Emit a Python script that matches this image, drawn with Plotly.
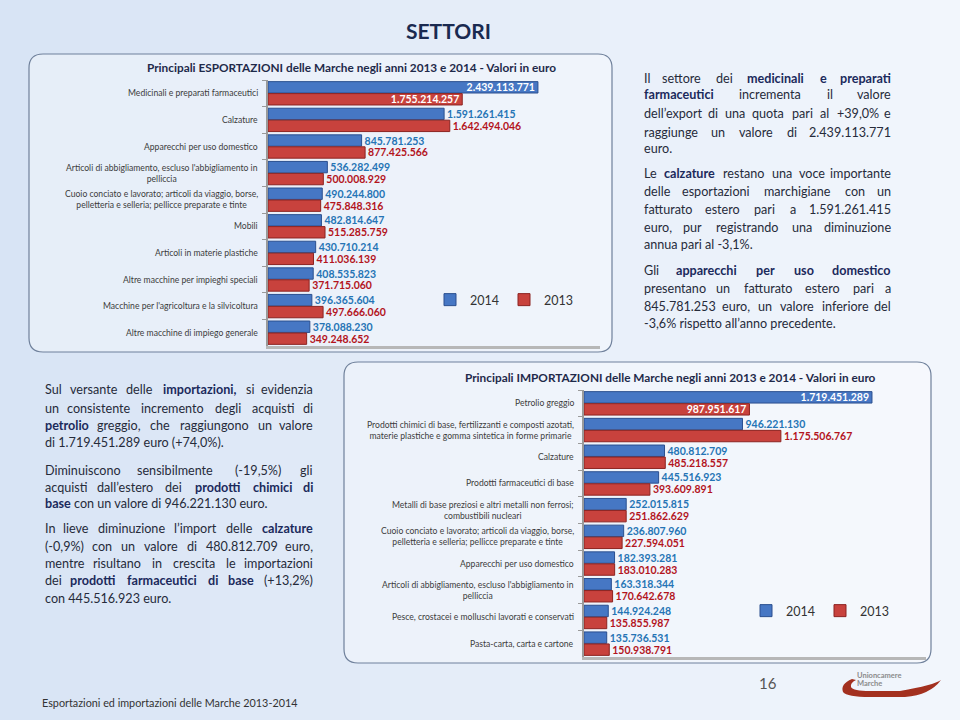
import plotly.graph_objects as go

# ---------------- data ----------------
exp_cats = [
    "Medicinali e preparati farmaceutici",
    "Calzature",
    "Apparecchi per uso domestico",
    "Articoli di abbigliamento, escluso l'abbigliamento in<br>pelliccia",
    "Cuoio conciato e lavorato; articoli da viaggio, borse,<br>pelletteria e selleria; pellicce preparate e tinte",
    "Mobili",
    "Articoli in materie plastiche",
    "Altre macchine per impieghi speciali",
    "Macchine per l'agricoltura e la silvicoltura",
    "Altre macchine di impiego generale",
]
exp_2014 = [2439113771, 1591261415, 845781253, 536282499, 490244800,
            482814647, 430710214, 408535823, 396365604, 378088230]
exp_2013 = [1755214257, 1642494046, 877425566, 500008929, 475848316,
            515285759, 411036139, 371715060, 497666060, 349248652]

imp_cats = [
    "Petrolio greggio",
    "Prodotti chimici di base, fertilizzanti e composti azotati,<br>materie plastiche e gomma sintetica in forme primarie",
    "Calzature",
    "Prodotti farmaceutici di base",
    "Metalli di base preziosi e altri metalli non ferrosi;<br>combustibili nucleari",
    "Cuoio conciato e lavorato; articoli da viaggio, borse,<br>pelletteria e selleria; pellicce preparate e tinte",
    "Apparecchi per uso domestico",
    "Articoli di abbigliamento, escluso l'abbigliamento in<br>pelliccia",
    "Pesce, crostacei e molluschi lavorati e conservati",
    "Pasta-carta, carta e cartone",
]
imp_2014 = [1719451289, 946221130, 480812709, 445516923, 252015815,
            236807960, 182393281, 163318344, 144924248, 135736531]
imp_2013 = [987951617, 1175506767, 485218557, 393609891, 251862629,
            227594051, 183010283, 170642678, 135855987, 150938791]

years = ["2014", "2013"]

exp_title = "Principali ESPORTAZIONI delle Marche negli anni 2013 e 2014 - Valori in euro"
imp_title = "Principali IMPORTAZIONI delle Marche negli anni 2013 e 2014 - Valori in euro"
page_title = "SETTORI"
footer = "Esportazioni ed importazioni delle Marche 2013-2014"
page_no = "16"

right_text = [
    ("Il settore dei <b>medicinali e preparati</b>", True),
    ("<b>farmaceutici</b> incrementa il valore", True),
    ("dell’export di una quota pari al +39,0% e", True),
    ("raggiunge un valore di 2.439.113.771", True),
    ("euro.", False),
    None,
    ("Le <b>calzature</b> restano una voce importante", True),
    ("delle esportazioni marchigiane con un", True),
    ("fatturato estero pari a 1.591.261.415", True),
    ("euro, pur registrando una diminuzione", True),
    ("annua pari al -3,1%.", False),
    None,
    ("Gli <b>apparecchi per uso domestico</b>", True),
    ("presentano un fatturato estero pari a", True),
    ("845.781.253 euro, un valore inferiore del", True),
    ("-3,6% rispetto all’anno precedente.", False),
]
left_text = [
    ("Sul versante delle <b>importazioni,</b> si evidenzia", True),
    ("un consistente incremento degli acquisti di", True),
    ("<b>petrolio</b> greggio, che raggiungono un valore", True),
    ("di 1.719.451.289 euro (+74,0%).", False),
    None,
    ("Diminuiscono sensibilmente (-19,5%) gli", True),
    ("acquisti dall’estero dei <b>prodotti chimici di</b>", True),
    ("<b>base</b> con un valore di 946.221.130 euro.", False),
    None,
    ("In lieve diminuzione l’import delle <b>calzature</b>", True),
    ("(-0,9%) con un valore di 480.812.709 euro,", True),
    ("mentre risultano in crescita le importazioni", True),
    ("dei <b>prodotti farmaceutici di base</b> (+13,2%)", True),
    ("con 445.516.923 euro.", False),
]

# ---------------- style ----------------
W, H = 960, 720
FONT = "Lato"
BLUE, BLUE_D = "#4677c4", "#2a4f8f"
RED, RED_D = "#c8423d", "#8c2320"
BLUE_TXT, RED_TXT = "#2574b5", "#b3141c"
TXT = "#262b3a"
NAVY = "#1b2a5c"
BG = "#e6eef9"


def X(x):
    return x / W


def Y(y):
    return 1 - y / H


def fmt(vals):
    return [f"{v:,}".replace(",", ".") for v in vals]


def rrect(x0, y0, x1, y1, r):
    return (f"M {X(x0+r)},{Y(y0)} L {X(x1-r)},{Y(y0)} Q {X(x1)},{Y(y0)} {X(x1)},{Y(y0+r)} "
            f"L {X(x1)},{Y(y1-r)} Q {X(x1)},{Y(y1)} {X(x1-r)},{Y(y1)} "
            f"L {X(x0+r)},{Y(y1)} Q {X(x0)},{Y(y1)} {X(x0)},{Y(y1-r)} "
            f"L {X(x0)},{Y(y0+r)} Q {X(x0)},{Y(y0)} {X(x0+r)},{Y(y0)} Z")


fig = go.Figure()

# bars ------------------------------------------------------------
def add_pair(cats, v14, v13, xa, ya, leg):
    for vals, name, col, lcol, tcol in [(v14, years[0], BLUE, BLUE_D, BLUE_TXT),
                                        (v13, years[1], RED, RED_D, RED_TXT)]:
        pos = ["inside" if i == 0 else "outside" for i in range(len(vals))]
        fig.add_trace(go.Bar(
            y=cats, x=vals, orientation="h", name=name,
            marker=dict(color=col, line=dict(color=lcol, width=1)),
            text=fmt(vals), textposition=pos, insidetextanchor="end",
            textfont=dict(family=FONT, size=10.5, weight="bold"),
            insidetextfont=dict(family=FONT, size=10.5, color="white", weight="bold"),
            outsidetextfont=dict(family=FONT, size=10.5, color=tcol, weight="bold"),
            constraintext="none", cliponaxis=False,
            xaxis=xa, yaxis=ya, legend=leg, hoverinfo="skip",
        ))


add_pair(exp_cats, exp_2014, exp_2013, "x", "y", "legend")
add_pair(imp_cats, imp_2014, imp_2013, "x2", "y2", "legend2")

ax_common = dict(showgrid=False, zeroline=False, showticklabels=False, ticks="",
                 showline=True, linecolor="#b7b7b7", linewidth=3, fixedrange=True)
ay_common = dict(showgrid=False, zeroline=False, showticklabels=False,
                 showline=True, linecolor="#9a9a9a", linewidth=1.5,
                 ticks="outside", ticklen=4, tickcolor="#9a9a9a", tickson="boundaries",
                 autorange="reversed", categoryorder="array", fixedrange=True)

fig.update_layout(
    width=W, height=H, margin=dict(l=0, r=0, t=0, b=0),
    paper_bgcolor=BG, plot_bgcolor="rgba(0,0,0,0)",
    barmode="group", bargap=0.1, bargroupgap=0.05,
    xaxis=dict(domain=[X(268), X(600)], range=[0, 3.0e9], anchor="y", **ax_common),
    yaxis=dict(domain=[Y(346), Y(80)], anchor="x", categoryarray=exp_cats, **ay_common),
    xaxis2=dict(domain=[X(584), X(926)], range=[0, 2.042e9], anchor="y2", **ax_common),
    yaxis2=dict(domain=[Y(657), Y(390)], anchor="x2", categoryarray=imp_cats, **ay_common),
    legend=dict(x=X(430), y=Y(300), xanchor="left", yanchor="middle", orientation="h",
                bgcolor="rgba(0,0,0,0)", font=dict(family=FONT, size=12.5, color="#333"),
                itemwidth=30),
    legend2=dict(x=X(746), y=Y(611), xanchor="left", yanchor="middle", orientation="h",
                 bgcolor="rgba(0,0,0,0)", font=dict(family=FONT, size=12.5, color="#333"),
                 itemwidth=30),
    showlegend=True,
)

# background gradient + boxes ---------------------------------------
shapes = []
n = 32
c0, c1 = (216, 228, 245), (242, 246, 252)
for i in range(n):
    t = i / (n - 1)
    c = tuple(round(a + (b - a) * t) for a, b in zip(c0, c1))
    shapes.append(dict(type="rect", xref="paper", yref="paper", layer="below",
                       x0=i / n, x1=(i + 1) / n + 0.002, y0=0, y1=1,
                       line=dict(width=0), fillcolor=f"rgb{c}"))
for (bx0, by0, bx1, by1) in [(29, 54, 612, 352), (344, 362, 931, 663)]:
    shapes.append(dict(type="path", xref="paper", yref="paper", layer="below",
                       path=rrect(bx0, by0, bx1, by1, 14),
                       line=dict(color="#6f809b", width=1.2),
                       fillcolor="rgba(255,255,255,0.35)"))
# logo swoosh
sw = [(852, 679), (840, 684), (843, 692), (847, 697), (870, 697), (905, 697),
      (930, 695), (941, 680), (934, 685), (922, 690), (900, 691), (870, 691),
      (853, 691), (851, 687), (850, 683), (856, 680)]
p = (f"M {X(sw[0][0])},{Y(sw[0][1])} Q {X(sw[1][0])},{Y(sw[1][1])} {X(sw[2][0])},{Y(sw[2][1])} "
     f"Q {X(sw[3][0])},{Y(sw[3][1])} {X(sw[4][0])},{Y(sw[4][1])} L {X(sw[5][0])},{Y(sw[5][1])} "
     f"Q {X(sw[6][0])},{Y(sw[6][1])} {X(sw[7][0])},{Y(sw[7][1])} "
     f"Q {X(sw[8][0])},{Y(sw[8][1])} {X(sw[10][0])},{Y(sw[10][1])} L {X(sw[11][0])},{Y(sw[11][1])} "
     f"Q {X(sw[12][0])},{Y(sw[12][1])} {X(sw[13][0])},{Y(sw[13][1])} "
     f"Q {X(sw[14][0])},{Y(sw[14][1])} {X(sw[15][0])},{Y(sw[15][1])} Z")
shapes.append(dict(type="path", xref="paper", yref="paper", path=p,
                   line=dict(width=0), fillcolor="#a3301f"))
fig.update_layout(shapes=shapes)

# annotations ---------------------------------------------------------
ann = []


def add_text(x, y, text, size, color=TXT, anchor="left", bold=False, family=FONT, **kw):
    ann.append(dict(x=X(x), y=Y(y), xref="paper", yref="paper", text=text, showarrow=False,
                    xanchor=anchor, yanchor="middle",
                    font=dict(family=family, size=size, color=color,
                              weight="bold" if bold else "normal"), **kw))


# category labels through the y axes
for cats, xr, yr in [(exp_cats, "x domain", "y"), (imp_cats, "x2 domain", "y2")]:
    for c in cats:
        ann.append(dict(x=0, y=c, xref=xr, yref=yr, text=c, showarrow=False,
                        xanchor="right", yanchor="middle", xshift=-8, align="center",
                        font=dict(family=FONT, size=8.6, color="#3c3c3c")))

add_text(351, 67, exp_title, 11.8, color="#1f2a4a", anchor="center", bold=True)
add_text(670, 377, imp_title, 11.8, color="#1f2a4a", anchor="center", bold=True)
add_text(448, 31, page_title, 21, color="#1a2a50", anchor="center", bold=True)
add_text(40, 702, footer, 10.8, color="#333333")
add_text(768, 683, page_no, 15, color="#555555", anchor="center")
add_text(855, 675, "Unioncamere", 7.5, color="#8b8b8b", bold=True)
add_text(855, 683, "Marche", 7.5, color="#8b8b8b", bold=True)

# justified paragraph text
CW = {}
for ch in "iljI.,:;'’!|": CW[ch] = 0.24
for ch in "ftr": CW[ch] = 0.35
for ch in "()-": CW[ch] = 0.32
CW.update({"m": 0.84, "w": 0.75, "M": 0.9, "W": 0.95, "%": 0.78, "+": 0.58, "v": 0.5,
           "y": 0.5, "c": 0.47, "s": 0.43, "z": 0.45, "x": 0.5, "k": 0.5, "a": 0.51, "e": 0.52})


def est(word, size, bold):
    w = 0
    for ch in word:
        if ch in CW:
            w += CW[ch]
        elif ch.isdigit():
            w += 0.58
        elif ch.isupper():
            w += 0.63
        else:
            w += 0.55
    return w * size * (1.05 if bold else 1.0)


def styled(t):
    return t.replace("<b>", f"<span style='color:{NAVY}'><b>").replace("</b>", "</b></span>")


def add_para(lines, x0, x1, ys, size):
    k = 0
    for item in lines:
        if item is None:
            continue
        line, just = item
        y = ys[k]
        k += 1
        words, bold = [], False
        for raw in line.split(" "):
            if raw == "":
                continue
            if raw.startswith("<b>"):
                bold = True
            wtxt = raw.replace("<b>", "").replace("</b>", "")
            words.append((wtxt, bold))
            if raw.endswith("</b>"):
                bold = False
        widths = [est(w, size, b) for w, b in words]
        gap = (x1 - x0 - sum(widths)) / max(len(words) - 1, 1)
        if not just or gap < 5 or len(words) < 2:
            add_text(x0, y, styled(line), size)
            continue
        cur = x0
        for i, ((w, b), ew) in enumerate(zip(words, widths)):
            txt = f"<b>{w}</b>" if b else w
            col = NAVY if b else TXT
            if i == 0:
                add_text(x0, y, txt, size, color=col)
            elif i == len(words) - 1:
                add_text(x1, y, txt, size, color=col, anchor="right")
            else:
                add_text(cur + ew / 2, y, txt, size, color=col, anchor="center")
            cur += ew + gap


add_para(right_text, 642, 893, [78, 95, 113, 132, 149, 173, 192, 209, 227, 244, 270, 288, 306, 323], 12.6)
add_para(left_text, 43, 315, [389, 408, 425, 442, 470, 487, 503, 528, 546, 563, 580, 598], 12.6)

fig.update_layout(annotations=ann)
fig.write_html(
    "out.html",
    config={"displayModeBar": False},
    post_script=f"document.body.style.margin='0';document.body.style.background='{BG}';",
)
